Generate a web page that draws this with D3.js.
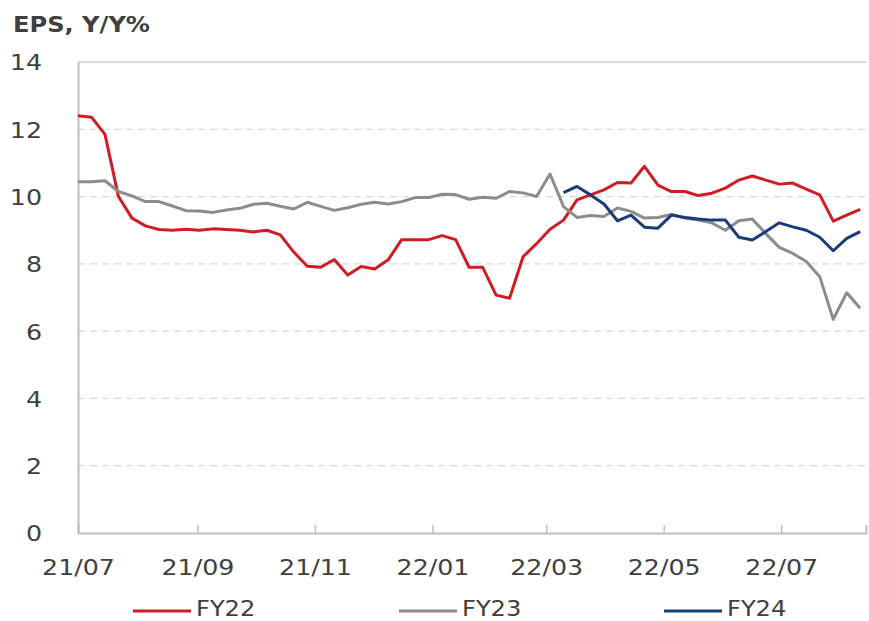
<html>
<head>
<meta charset="UTF-8">
<script src="https://d3js.org/d3.v7.min.js"></script>
<style>
  body { margin: 0; background: #fff; }
  svg { font-family: "DejaVu Sans", sans-serif; }
  text { fill: #404040; }
</style>
</head>
<body>
<svg width="869" height="621"></svg>
<script>
// weekly observation dates
const dates = [
  "2021-07-01","2021-07-08","2021-07-15","2021-07-22","2021-07-29",
  "2021-08-05","2021-08-12","2021-08-19","2021-08-26",
  "2021-09-02","2021-09-09","2021-09-16","2021-09-23","2021-09-30",
  "2021-10-07","2021-10-14","2021-10-21","2021-10-28",
  "2021-11-04","2021-11-11","2021-11-18","2021-11-25",
  "2021-12-02","2021-12-09","2021-12-16","2021-12-23","2021-12-30",
  "2022-01-06","2022-01-13","2022-01-20","2022-01-27",
  "2022-02-03","2022-02-10","2022-02-17","2022-02-24",
  "2022-03-03","2022-03-10","2022-03-17","2022-03-24","2022-03-31",
  "2022-04-07","2022-04-14","2022-04-21","2022-04-28",
  "2022-05-05","2022-05-12","2022-05-19","2022-05-26",
  "2022-06-02","2022-06-09","2022-06-16","2022-06-23","2022-06-30",
  "2022-07-07","2022-07-14","2022-07-21","2022-07-28",
  "2022-08-04","2022-08-11"
];

const fy22 = [
  12.4, 12.36, 11.85, 10.0, 9.36, 9.13, 9.02, 9.0, 9.03, 9.0,
  9.04, 9.02, 9.0, 8.95, 9.0, 8.86, 8.35, 7.93, 7.9, 8.13,
  7.67, 7.92, 7.85, 8.12, 8.72, 8.72, 8.72, 8.84, 8.72, 7.9,
  7.9, 7.07, 6.98, 8.21, 8.6, 9.03, 9.3, 9.9, 10.05, 10.2,
  10.42, 10.4, 10.9, 10.34, 10.15, 10.15, 10.03, 10.1, 10.25, 10.49,
  10.61, 10.49, 10.37, 10.4, 10.22, 10.05, 9.27, 9.45, 9.62
];

const fy23 = [
  10.44, 10.44, 10.47, 10.15, 10.02, 9.85, 9.85, 9.72, 9.58, 9.57,
  9.53, 9.6, 9.65, 9.77, 9.8, 9.71, 9.63, 9.83, 9.71, 9.59,
  9.67, 9.77, 9.83, 9.78, 9.85, 9.97, 9.97, 10.07, 10.06, 9.92,
  9.98, 9.95, 10.15, 10.11, 10.0, 10.67, 9.7, 9.38, 9.44, 9.41,
  9.66, 9.56, 9.36, 9.38, 9.47, 9.36, 9.3, 9.22, 9.0, 9.28,
  9.33, 8.9, 8.49, 8.31, 8.07, 7.62, 6.35, 7.14, 6.68
];

const fy24Start = "2022-03-10";
const fy24 = [
  10.12, 10.3, 10.05, 9.78, 9.28, 9.45, 9.09, 9.06, 9.45, 9.38,
  9.33, 9.3, 9.3, 8.79, 8.71, 8.96, 9.22, 9.1, 9.0, 8.79,
  8.39, 8.76, 8.96
];

const seriesNames = ["FY22", "FY23", "FY24"];
const seriesColors = ["#d01c24", "#8c8c8c", "#1b3a78"];
const yTicks = [0, 2, 4, 6, 8, 10, 12, 14];
const xTicks = ["2021-07-01","2021-09-01","2021-11-01","2022-01-01","2022-03-01","2022-05-01","2022-07-01"];
const title = "EPS, Y/Y%";

const parse = d3.timeParse("%Y-%m-%d");
const stretch = 1.15;

const svg = d3.select("svg");
const plotLeft = 78, plotRight = 866, plotTop = 62, plotBottom = 533;

const x = d3.scaleTime()
  .domain([parse("2021-07-01"), parse("2022-08-14")])
  .range([plotLeft, plotRight]);
const y = d3.scaleLinear().domain([0, 14]).range([plotBottom, plotTop]);

// gridlines
svg.append("g")
  .selectAll("line")
  .data(yTicks.filter((d) => d > 0))
  .join("line")
    .attr("x1", plotLeft).attr("x2", plotRight)
    .attr("y1", (d) => y(d)).attr("y2", (d) => y(d))
    .attr("stroke", "#d9d9d9")
    .attr("stroke-width", (d) => d === 14 ? 2 : 1.3)
    .attr("stroke-dasharray", (d) => d === 14 ? null : "7 5");

// y axis
const yAxis = svg.append("g")
  .attr("transform", `translate(${plotLeft},0)`)
  .call(d3.axisLeft(y).tickValues(yTicks).tickSize(0).tickPadding(36));
yAxis.select(".domain").attr("stroke", "#bfbfbf").attr("stroke-width", 2);
yAxis.selectAll("text")
  .attr("font-size", 22)
  .attr("font-family", "DejaVu Sans")
  .attr("dy", "0.36em")
  .attr("transform", `scale(${stretch},1)`)
  .attr("x", -36 / stretch);

// x axis
const xAxis = svg.append("g")
  .attr("transform", `translate(0,${plotBottom})`)
  .call(d3.axisBottom(x)
    .tickValues(xTicks.map(parse))
    .tickFormat(d3.timeFormat("%y/%m"))
    .tickSize(-8));
xAxis.select(".domain").attr("stroke", "#bfbfbf").attr("stroke-width", 2);
xAxis.selectAll(".tick line").attr("stroke", "#bfbfbf").attr("stroke-width", 1.5);
xAxis.selectAll("text")
  .attr("font-size", 22)
  .attr("font-family", "DejaVu Sans")
  .attr("y", 42)
  .attr("dy", 0)
  .attr("transform", `scale(${stretch},1)`);

// title
svg.append("text")
  .attr("transform", `translate(13,32) scale(${stretch},1)`)
  .attr("font-size", 21)
  .attr("font-weight", "bold")
  .text(title);

// lines
const startIdx = dates.indexOf(fy24Start);
const series = [
  fy22.map((v, i) => ({ date: parse(dates[i]), value: v })),
  fy23.map((v, i) => ({ date: parse(dates[i]), value: v })),
  fy24.map((v, i) => ({ date: parse(dates[startIdx + i]), value: v }))
];

const line = d3.line()
  .x((d) => x(d.date))
  .y((d) => y(d.value));

svg.append("g")
  .selectAll("path")
  .data(series)
  .join("path")
    .attr("fill", "none")
    .attr("stroke", (d, i) => seriesColors[i])
    .attr("stroke-width", 3)
    .attr("stroke-linejoin", "round")
    .attr("d", line);

// legend
const legendX = [133, 399, 664];
const legend = svg.append("g")
  .selectAll("g")
  .data(seriesNames)
  .join("g")
    .attr("transform", (d, i) => `translate(${legendX[i]},609)`);
legend.append("line")
  .attr("x1", 0).attr("x2", 58)
  .attr("y1", 2).attr("y2", 2)
  .attr("stroke", (d, i) => seriesColors[i])
  .attr("stroke-width", 3);
legend.append("text")
  .attr("transform", `translate(63,0) scale(${stretch},1)`)
  .attr("dy", "0.34em")
  .attr("font-size", 21)
  .text((d) => d);
</script>
</body>
</html>
